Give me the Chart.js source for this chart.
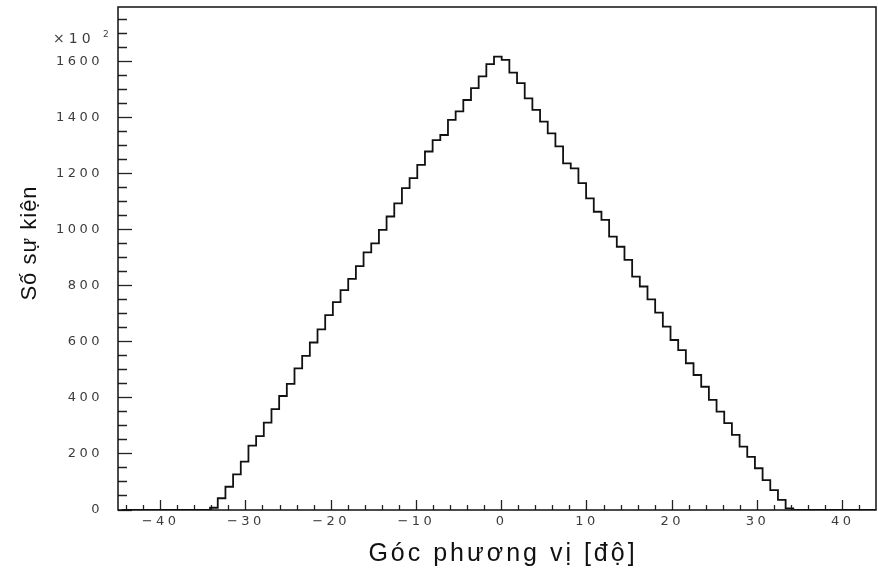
<!DOCTYPE html>
<html lang="vi">
<head>
<meta charset="utf-8">
<title>Phân bố góc phương vị</title>
<script src="https://cdn.jsdelivr.net/npm/chart.js@4.4.1/dist/chart.umd.min.js"></script>
<style>
  html, body { margin: 0; padding: 0; background: #fff; }
  canvas { display: block; }
</style>
</head>
<body>
<canvas id="azimuthChart" width="878" height="571"></canvas>
<script>
// Histogram 100 bin, mỗi bin 0.9 độ, bắt đầu từ -45 độ
const BIN_START = -45;
const BIN_WIDTH = 0.9;

// số sự kiện trong từng bin (đơn vị x10^2)
const counts = [
  0, 0, 0, 0, 0, 0, 0, 0, 0, 0,
  0, 0, 8, 42, 83, 127, 173, 230, 264, 312,
  360, 407, 450, 506, 550, 598, 645, 696, 742, 785,
  825, 871, 920, 952, 1000, 1048, 1095, 1149, 1185, 1232,
  1280, 1321, 1339, 1393, 1423, 1464, 1506, 1548, 1592, 1619,
  1607, 1562, 1524, 1470, 1429, 1387, 1345, 1298, 1238, 1220,
  1167, 1113, 1065, 1036, 976, 940, 893, 833, 798, 752,
  705, 655, 607, 571, 524, 482, 440, 393, 351, 310,
  268, 226, 190, 149, 107, 71, 36, 6, 0, 0,
  0, 0, 0, 0, 0, 0, 0, 0, 0, 0
];

// vạch chia trục
const xMajorTicks = [-40, -30, -20, -10, 0, 10, 20, 30, 40];
const yMajorTicks = [0, 200, 400, 600, 800, 1000, 1200, 1400, 1600];
const X_MINOR_STEP = 2;
const Y_MINOR_STEP = 50;

const xTitle = "Góc phương vị [độ]";
const yTitle = "Số sự kiện";
const yMultiplier = "×10";
const yMultiplierExp = "2";

const xTickValues = [];
for (let v = -44; v <= 42; v += X_MINOR_STEP) xTickValues.push(v);
const yTickValues = [];
for (let v = 0; v <= 1750; v += Y_MINOR_STEP) yTickValues.push(v);

const points = counts.map((c, i) => ({ x: BIN_START + BIN_WIDTH * (i + 0.5), y: c }));

// khung bao quanh + tiêu đề trục vẽ tay (có giãn chữ)
const frameAndTitles = {
  id: "frameAndTitles",
  beforeDraw(chart) {
    chart.ctx.letterSpacing = "3.5px";
  },
  afterDraw(chart) {
    const { ctx, chartArea: a } = chart;
    ctx.save();
    ctx.strokeStyle = "#111";
    ctx.lineWidth = 1.5;
    ctx.strokeRect(a.left, a.top, a.right - a.left, a.bottom - a.top);

    ctx.fillStyle = "#111";
    ctx.textBaseline = "alphabetic";

    // tiêu đề trục x
    ctx.letterSpacing = "3px";
    ctx.font = "25px 'Liberation Sans'";
    ctx.textAlign = "center";
    ctx.fillText(xTitle, 503, 561);

    // tiêu đề trục y
    ctx.save();
    ctx.translate(36, 243);
    ctx.rotate(-Math.PI / 2);
    ctx.letterSpacing = "1px";
    ctx.font = "22px 'Liberation Sans'";
    ctx.fillText(yTitle, 0, 0);
    ctx.restore();

    // hệ số nhân của trục y
    ctx.fillStyle = "#3c3c3c";
    ctx.textAlign = "left";
    ctx.letterSpacing = "4px";
    ctx.font = "14px 'DejaVu Sans'";
    ctx.fillText(yMultiplier, 53, 43);
    ctx.letterSpacing = "0px";
    ctx.font = "9px 'DejaVu Sans'";
    ctx.fillText(yMultiplierExp, 103, 37);
    ctx.restore();
  }
};

Chart.defaults.font.family = "'DejaVu Sans', sans-serif";

new Chart(document.getElementById("azimuthChart"), {
  type: "line",
  data: {
    datasets: [{
      data: points,
      borderColor: "#111",
      borderWidth: 1.8,
      stepped: "middle",
      pointRadius: 0,
      fill: false
    }]
  },
  options: {
    responsive: false,
    animation: false,
    devicePixelRatio: 1,
    layout: { padding: { left: 0, top: 7, right: 2, bottom: 0 } },
    plugins: {
      legend: { display: false },
      tooltip: { enabled: false }
    },
    scales: {
      x: {
        type: "linear",
        min: -45,
        max: 43.9,
        afterFit: (s) => { s.height = 61; s.paddingLeft = 0; s.paddingRight = 0; },
        afterBuildTicks: (s) => { s.ticks = xTickValues.map((v) => ({ value: v })); },
        border: { display: false },
        grid: {
          drawOnChartArea: false,
          tickLength: -10,
          tickColor: "#222",
          tickWidth: 1.3,
          tickBorderDash: (c) => (c.tick && xMajorTicks.includes(c.tick.value) ? [] : [5, 100])
        },
        ticks: {
          autoSkip: false,
          maxRotation: 0,
          padding: 14,
          color: "#3c3c3c",
          font: { size: 13 },
          callback: (v) => (xMajorTicks.includes(v) ? (v < 0 ? "\u2212" + Math.abs(v) : String(v)) : "")
        }
      },
      y: {
        type: "linear",
        min: 0,
        max: 1796,
        afterFit: (s) => { s.width = 118; s.paddingTop = 0; s.paddingBottom = 0; },
        afterBuildTicks: (s) => { s.ticks = yTickValues.map((v) => ({ value: v })); },
        border: { display: false },
        grid: {
          drawOnChartArea: false,
          tickLength: -14,
          tickColor: "#222",
          tickWidth: 1.3,
          tickBorderDash: (c) => (c.tick && yMajorTicks.includes(c.tick.value) ? [] : [0, 5, 9, 100])
        },
        ticks: {
          autoSkip: false,
          padding: 29,
          color: "#3c3c3c",
          font: { size: 13 },
          callback: (v) => (yMajorTicks.includes(v) ? String(v) : "")
        }
      }
    }
  },
  plugins: [frameAndTitles]
});
</script>
</body>
</html>
